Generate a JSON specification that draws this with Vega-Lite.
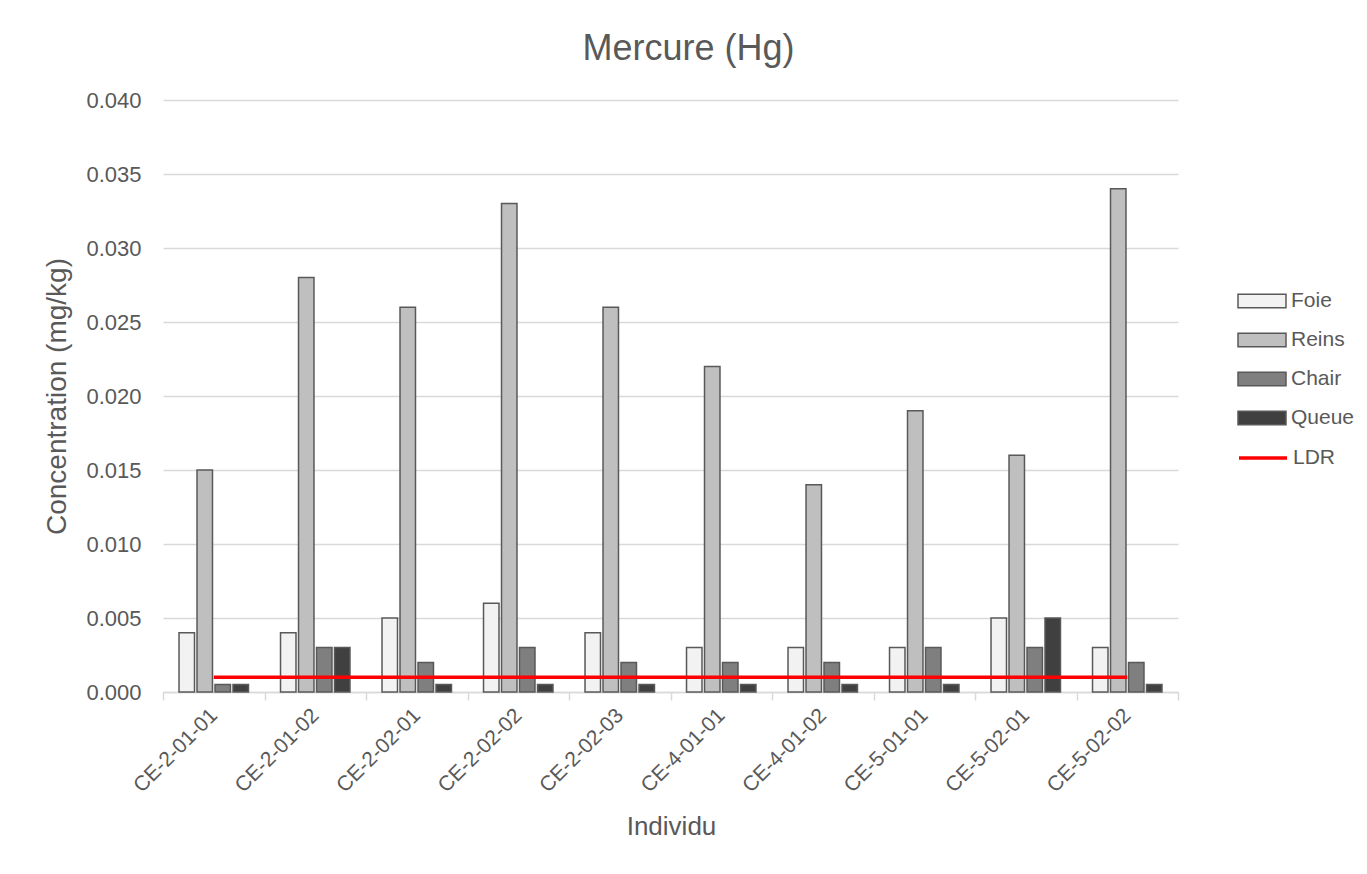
{
  "$schema": "https://vega.github.io/schema/vega-lite/v6.json",
  "autosize": {"type": "none"},
  "width": 1015,
  "height": 592,
  "padding": {"left": 163, "top": 100, "right": 189, "bottom": 182},
  "background": "#ffffff",
  "config": {
    "font": "Liberation Sans",
    "view": {"stroke": null}
  },
  "title": {
    "text": "Mercure (Hg)",
    "fontSize": 36,
    "fontWeight": "normal",
    "color": "#595959",
    "anchor": "middle",
    "frame": "group",
    "offset": 21,
    "dx": 18
  },
  "datasets": {
    "bars": [
      {"Individu": "CE-2-01-01", "Tissu": "Foie", "Concentration": 0.004},
      {"Individu": "CE-2-01-01", "Tissu": "Reins", "Concentration": 0.015},
      {"Individu": "CE-2-01-01", "Tissu": "Chair", "Concentration": 0.0005},
      {"Individu": "CE-2-01-01", "Tissu": "Queue", "Concentration": 0.0005},
      {"Individu": "CE-2-01-02", "Tissu": "Foie", "Concentration": 0.004},
      {"Individu": "CE-2-01-02", "Tissu": "Reins", "Concentration": 0.028},
      {"Individu": "CE-2-01-02", "Tissu": "Chair", "Concentration": 0.003},
      {"Individu": "CE-2-01-02", "Tissu": "Queue", "Concentration": 0.003},
      {"Individu": "CE-2-02-01", "Tissu": "Foie", "Concentration": 0.005},
      {"Individu": "CE-2-02-01", "Tissu": "Reins", "Concentration": 0.026},
      {"Individu": "CE-2-02-01", "Tissu": "Chair", "Concentration": 0.002},
      {"Individu": "CE-2-02-01", "Tissu": "Queue", "Concentration": 0.0005},
      {"Individu": "CE-2-02-02", "Tissu": "Foie", "Concentration": 0.006},
      {"Individu": "CE-2-02-02", "Tissu": "Reins", "Concentration": 0.033},
      {"Individu": "CE-2-02-02", "Tissu": "Chair", "Concentration": 0.003},
      {"Individu": "CE-2-02-02", "Tissu": "Queue", "Concentration": 0.0005},
      {"Individu": "CE-2-02-03", "Tissu": "Foie", "Concentration": 0.004},
      {"Individu": "CE-2-02-03", "Tissu": "Reins", "Concentration": 0.026},
      {"Individu": "CE-2-02-03", "Tissu": "Chair", "Concentration": 0.002},
      {"Individu": "CE-2-02-03", "Tissu": "Queue", "Concentration": 0.0005},
      {"Individu": "CE-4-01-01", "Tissu": "Foie", "Concentration": 0.003},
      {"Individu": "CE-4-01-01", "Tissu": "Reins", "Concentration": 0.022},
      {"Individu": "CE-4-01-01", "Tissu": "Chair", "Concentration": 0.002},
      {"Individu": "CE-4-01-01", "Tissu": "Queue", "Concentration": 0.0005},
      {"Individu": "CE-4-01-02", "Tissu": "Foie", "Concentration": 0.003},
      {"Individu": "CE-4-01-02", "Tissu": "Reins", "Concentration": 0.014},
      {"Individu": "CE-4-01-02", "Tissu": "Chair", "Concentration": 0.002},
      {"Individu": "CE-4-01-02", "Tissu": "Queue", "Concentration": 0.0005},
      {"Individu": "CE-5-01-01", "Tissu": "Foie", "Concentration": 0.003},
      {"Individu": "CE-5-01-01", "Tissu": "Reins", "Concentration": 0.019},
      {"Individu": "CE-5-01-01", "Tissu": "Chair", "Concentration": 0.003},
      {"Individu": "CE-5-01-01", "Tissu": "Queue", "Concentration": 0.0005},
      {"Individu": "CE-5-02-01", "Tissu": "Foie", "Concentration": 0.005},
      {"Individu": "CE-5-02-01", "Tissu": "Reins", "Concentration": 0.016},
      {"Individu": "CE-5-02-01", "Tissu": "Chair", "Concentration": 0.003},
      {"Individu": "CE-5-02-01", "Tissu": "Queue", "Concentration": 0.005},
      {"Individu": "CE-5-02-02", "Tissu": "Foie", "Concentration": 0.003},
      {"Individu": "CE-5-02-02", "Tissu": "Reins", "Concentration": 0.034},
      {"Individu": "CE-5-02-02", "Tissu": "Chair", "Concentration": 0.002},
      {"Individu": "CE-5-02-02", "Tissu": "Queue", "Concentration": 0.0005}
    ],
    "ldr": [
      {"Individu": "CE-2-01-01", "LDR": 0.001},
      {"Individu": "CE-2-01-02", "LDR": 0.001},
      {"Individu": "CE-2-02-01", "LDR": 0.001},
      {"Individu": "CE-2-02-02", "LDR": 0.001},
      {"Individu": "CE-2-02-03", "LDR": 0.001},
      {"Individu": "CE-4-01-01", "LDR": 0.001},
      {"Individu": "CE-4-01-02", "LDR": 0.001},
      {"Individu": "CE-5-01-01", "LDR": 0.001},
      {"Individu": "CE-5-02-01", "LDR": 0.001},
      {"Individu": "CE-5-02-02", "LDR": 0.001}
    ]
  },
  "layer": [
    {
      "data": {"name": "bars"},
      "mark": {"type": "bar", "stroke": "#595959", "strokeWidth": 1.5},
      "encoding": {
        "x": {
          "field": "Individu",
          "type": "nominal",
          "sort": null,
          "scale": {"paddingInner": 0, "paddingOuter": 0},
          "axis": {
            "title": "Individu",
            "titleFontSize": 26,
            "titleFontWeight": "normal",
            "titleColor": "#595959",
            "titleX": 508,
            "titleY": 134,
            "titleBaseline": "middle",
            "labelAngle": -45,
            "labelAlign": "right",
            "labelBaseline": "middle",
            "labelFontSize": 21,
            "labelColor": "#595959",
            "labelPadding": 12,
            "domainColor": "#d9d9d9",
            "domainWidth": 1.5,
            "tickColor": "#d9d9d9",
            "tickWidth": 1.5,
            "tickSize": 8,
            "tickBand": "extent",
            "grid": false
          }
        },
        "xOffset": {
          "field": "Tissu",
          "type": "nominal",
          "sort": ["Foie", "Reins", "Chair", "Queue"],
          "scale": {"paddingInner": 0.14, "paddingOuter": 0.89}
        },
        "y": {
          "field": "Concentration",
          "type": "quantitative",
          "scale": {"domain": [0, 0.04], "nice": false},
          "axis": {
            "title": "Concentration (mg/kg)",
            "titleFontSize": 28,
            "titleFontWeight": "normal",
            "titleColor": "#595959",
            "titleX": -106,
            "titleY": 296,
            "titleAlign": "center",
            "titleBaseline": "middle",
            "values": [0, 0.005, 0.01, 0.015, 0.02, 0.025, 0.03, 0.035, 0.04],
            "format": ".3f",
            "labelFontSize": 22,
            "labelColor": "#595959",
            "labelPadding": 22,
            "domain": false,
            "ticks": false,
            "gridColor": "#d9d9d9",
            "gridWidth": 1.5
          }
        },
        "fill": {
          "field": "Tissu",
          "type": "nominal",
          "sort": ["Foie", "Reins", "Chair", "Queue"],
          "scale": {
            "domain": ["Foie", "Reins", "Chair", "Queue"],
            "range": ["#f2f2f2", "#bfbfbf", "#7f7f7f", "#404040"]
          },
          "legend": {
            "title": null,
            "orient": "none",
            "legendX": 1074,
            "legendY": 176,
            "symbolType": "M-1,-0.28H1V0.28H-1Z",
            "symbolSize": 2304,
            "symbolStrokeColor": "#595959",
            "symbolStrokeWidth": 1.5,
            "symbolOpacity": 1,
            "labelFontSize": 21,
            "labelColor": "#595959",
            "labelOffset": 4,
            "rowPadding": 4
          }
        }
      }
    },
    {
      "data": {"name": "ldr"},
      "mark": {"type": "line", "strokeWidth": 3.5},
      "encoding": {
        "x": {"field": "Individu", "type": "nominal", "sort": null},
        "y": {"field": "LDR", "type": "quantitative"},
        "stroke": {
          "datum": "LDR",
          "type": "nominal",
          "scale": {"domain": ["LDR"], "range": ["#ff0000"]},
          "legend": {
            "title": null,
            "orient": "none",
            "legendX": 1074,
            "legendY": 332,
            "symbolType": "stroke",
            "symbolSize": 2304,
            "symbolStrokeWidth": 3.5,
            "labelFontSize": 21,
            "labelColor": "#595959",
            "labelOffset": 4
          }
        }
      }
    }
  ]
}
